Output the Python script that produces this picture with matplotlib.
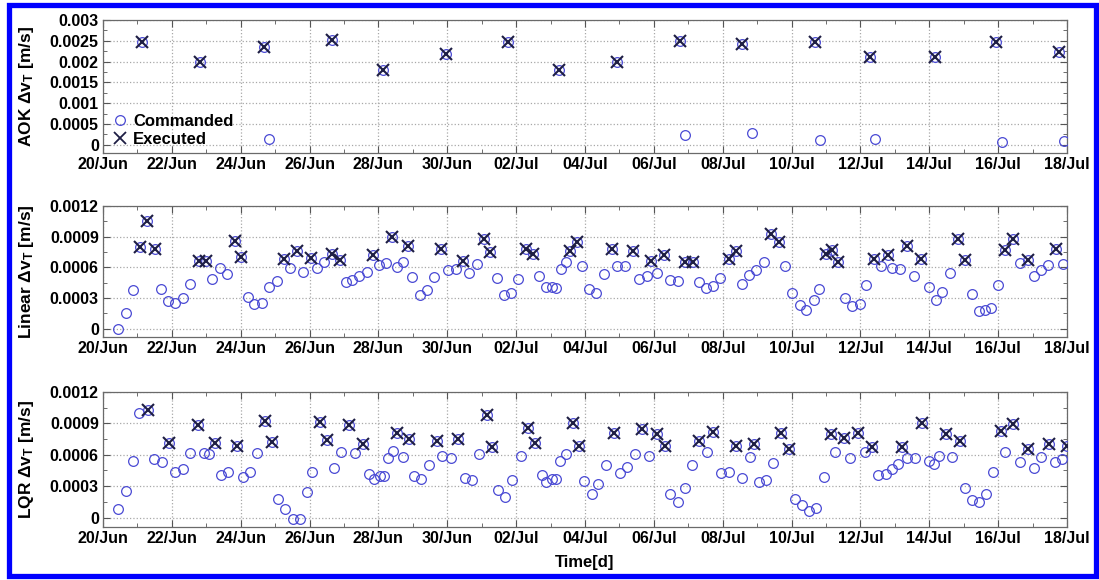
import matplotlib
matplotlib.use('Agg')
import matplotlib.pyplot as plt
from matplotlib.patches import Rectangle
from matplotlib.ticker import FixedLocator, MultipleLocator
from matplotlib.lines import Line2D

plt.rcParams['font.family'] = ['Liberation Sans', 'DejaVu Sans']
plt.rcParams['font.weight'] = 'bold'
plt.rcParams['mathtext.fontset'] = 'custom'
plt.rcParams['mathtext.rm'] = 'Liberation Sans'
plt.rcParams['mathtext.bf'] = 'Liberation Sans:bold'
plt.rcParams['mathtext.default'] = 'bf'

# ---------------- data (days since 20/Jun) ----------------
x_tick_days = list(range(0, 29, 2))
x_tick_labels = ['20/Jun', '22/Jun', '24/Jun', '26/Jun', '28/Jun', '30/Jun',
                 '02/Jul', '04/Jul', '06/Jul', '08/Jul', '10/Jul', '12/Jul',
                 '14/Jul', '16/Jul', '18/Jul']

aok_exe_day = [1.12, 2.81, 4.67, 6.64, 8.14, 9.95, 11.77, 13.25, 14.94, 16.77,
               18.56, 20.67, 22.28, 24.16, 25.93, 27.77]
aok_exe_val = [0.00246, 0.00198, 0.00234, 0.00252, 0.00180, 0.00218, 0.00248,
               0.00179, 0.00198, 0.00250, 0.00242, 0.00246, 0.00210, 0.00212,
               0.00248, 0.00224]
aok_cmd_day = [1.12, 2.81, 4.67, 4.81, 6.64, 8.14, 9.95, 11.77, 13.25, 14.94,
               16.77, 16.90, 18.56, 18.86, 20.67, 20.83, 22.28, 22.41, 24.16,
               25.93, 26.10, 27.77, 27.90]
aok_cmd_val = [0.00246, 0.00198, 0.00234, 0.00014, 0.00252, 0.00180, 0.00218,
               0.00248, 0.00179, 0.00198, 0.00250, 0.00024, 0.00242, 0.00027,
               0.00246, 0.00012, 0.00210, 0.00014, 0.00212, 0.00248, 0.00006,
               0.00224, 0.00008]

lin_cmd_day = [0.45, 0.66, 0.86, 1.08, 1.27, 1.51, 1.69, 1.90, 2.10, 2.32, 2.53,
               2.78, 3.00, 3.17, 3.39, 3.60, 3.82, 4.01, 4.20, 4.40, 4.62, 4.82,
               5.04, 5.25, 5.44, 5.64, 5.81, 6.05, 6.22, 6.43, 6.64, 6.88, 7.05,
               7.22, 7.43, 7.66, 7.84, 8.02, 8.21, 8.40, 8.55, 8.72, 8.86, 8.98,
               9.20, 9.42, 9.61, 9.83, 10.03, 10.25, 10.46, 10.64, 10.87, 11.06,
               11.24, 11.43, 11.64, 11.84, 12.04, 12.28, 12.48, 12.67, 12.88,
               13.03, 13.15, 13.29, 13.44, 13.56, 13.77, 13.90, 14.12, 14.33,
               14.55, 14.77, 14.93, 15.16, 15.40, 15.57, 15.79, 15.93, 16.08,
               16.30, 16.48, 16.70, 16.90, 17.14, 17.30, 17.51, 17.72, 17.93,
               18.18, 18.40, 18.55, 18.77, 18.98, 19.20, 19.41, 19.64, 19.82,
               20.01, 20.24, 20.43, 20.64, 20.79, 21.01, 21.18, 21.35, 21.55,
               21.76, 21.98, 22.17, 22.40, 22.59, 22.80, 22.93, 23.14, 23.36,
               23.56, 23.75, 23.98, 24.19, 24.38, 24.59, 24.82, 25.03, 25.24,
               25.44, 25.63, 25.78, 26.00, 26.21, 26.43, 26.63, 26.87, 27.03,
               27.24, 27.45, 27.69, 27.88]
lin_cmd_val = [0.0, 0.000155, 0.00038, 0.00080, 0.00105, 0.00078, 0.00039,
               0.00027, 0.00025, 0.00030, 0.00044, 0.00066, 0.00066, 0.00049,
               0.00059, 0.00054, 0.00086, 0.00070, 0.00031, 0.00024, 0.00025,
               0.00041, 0.00047, 0.00068, 0.00059, 0.00076, 0.00056, 0.00069,
               0.00059, 0.00065, 0.00073, 0.00067, 0.00046, 0.00048, 0.00052,
               0.00056, 0.00072, 0.00062, 0.00064, 0.00090, 0.00060, 0.00065,
               0.00081, 0.00051, 0.00033, 0.00038, 0.00051, 0.00078, 0.00057,
               0.00058, 0.00066, 0.00055, 0.00063, 0.00088, 0.00075, 0.00050,
               0.00033, 0.00035, 0.00049, 0.00078, 0.00073, 0.00052, 0.00041,
               0.00041, 0.00040, 0.00058, 0.00065, 0.00076, 0.00085, 0.00061,
               0.00039, 0.00035, 0.00054, 0.00078, 0.00061, 0.00061, 0.00076,
               0.00049, 0.00052, 0.00066, 0.00055, 0.00072, 0.00048, 0.00047,
               0.00065, 0.00065, 0.00046, 0.00040, 0.00042, 0.00050, 0.00068,
               0.00076, 0.00044, 0.00053, 0.00057, 0.00065, 0.00093, 0.00085,
               0.00061, 0.00035, 0.00023, 0.00018, 0.00028, 0.00039, 0.00073,
               0.00077, 0.00065, 0.00030, 0.00022, 0.00024, 0.00043, 0.00068,
               0.00061, 0.00072, 0.00059, 0.00058, 0.00081, 0.00052, 0.00068,
               0.00041, 0.00028, 0.00036, 0.00055, 0.00088, 0.00067, 0.00034,
               0.00017, 0.00018, 0.00020, 0.00043, 0.00077, 0.00088, 0.00064,
               0.00067, 0.00052, 0.00057, 0.00062, 0.00078, 0.00063]
lin_exe_day = [1.08, 1.27, 1.51, 2.78, 3.00, 3.82, 4.01, 5.25, 5.64, 6.05, 6.64,
               6.88, 7.84, 8.40, 8.86, 9.83, 10.46, 11.06, 11.24, 12.28, 12.48,
               13.56, 13.77, 14.77, 15.40, 15.93, 16.30, 16.90, 17.14, 18.18,
               18.40, 19.41, 19.64, 21.01, 21.18, 21.35, 22.40, 22.80, 23.36,
               23.75, 24.82, 25.03, 26.21, 26.43, 26.87, 27.69]
lin_exe_val = [0.00080, 0.00105, 0.00078, 0.00066, 0.00066, 0.00086, 0.00070,
               0.00068, 0.00076, 0.00069, 0.00073, 0.00067, 0.00072, 0.00090,
               0.00081, 0.00078, 0.00066, 0.00088, 0.00075, 0.00078, 0.00073,
               0.00076, 0.00085, 0.00078, 0.00076, 0.00066, 0.00072, 0.00065,
               0.00065, 0.00068, 0.00076, 0.00093, 0.00085, 0.00073, 0.00077,
               0.00065, 0.00068, 0.00072, 0.00081, 0.00068, 0.00088, 0.00067,
               0.00077, 0.00088, 0.00067, 0.00078]

lqr_cmd_day = [0.45, 0.66, 0.86, 1.05, 1.30, 1.48, 1.70, 1.93, 2.09, 2.31, 2.53,
               2.77, 2.93, 3.09, 3.25, 3.43, 3.64, 3.88, 4.06, 4.27, 4.48, 4.70,
               4.90, 5.09, 5.30, 5.51, 5.72, 5.93, 6.06, 6.30, 6.51, 6.71, 6.90,
               7.15, 7.31, 7.56, 7.73, 7.87, 8.04, 8.16, 8.28, 8.43, 8.55, 8.70,
               8.89, 9.04, 9.25, 9.47, 9.69, 9.86, 10.10, 10.32, 10.51, 10.73,
               10.93, 11.14, 11.31, 11.48, 11.68, 11.89, 12.13, 12.35, 12.54,
               12.74, 12.86, 13.05, 13.17, 13.27, 13.44, 13.64, 13.82, 13.98,
               14.19, 14.38, 14.60, 14.85, 15.03, 15.23, 15.45, 15.67, 15.86,
               16.08, 16.32, 16.48, 16.69, 16.90, 17.11, 17.31, 17.53, 17.72,
               17.94, 18.17, 18.38, 18.55, 18.79, 18.91, 19.06, 19.27, 19.46,
               19.69, 19.92, 20.09, 20.31, 20.50, 20.72, 20.93, 21.14, 21.27,
               21.51, 21.69, 21.93, 22.13, 22.35, 22.51, 22.73, 22.93, 23.09,
               23.22, 23.36, 23.58, 23.79, 23.99, 24.13, 24.27, 24.50, 24.67,
               24.88, 25.03, 25.24, 25.45, 25.64, 25.85, 26.09, 26.21, 26.43,
               26.63, 26.87, 27.03, 27.24, 27.48, 27.64, 27.86, 28.0]
lqr_cmd_val = [0.000086, 0.00025, 0.00054, 0.00100, 0.00103, 0.00056, 0.00053,
               0.00071, 0.00044, 0.00046, 0.00062, 0.00088, 0.00062, 0.00061,
               0.00071, 0.00041, 0.00044, 0.00068, 0.00039, 0.00044, 0.00062,
               0.00092, 0.00072, 0.00018, 0.000086, -0.00001, -0.00001, 0.00024,
               0.00044, 0.00091, 0.00074, 0.00047, 0.00063, 0.00088, 0.00062,
               0.00070, 0.00042, 0.00037, 0.00040, 0.00040, 0.00057, 0.00064,
               0.00081, 0.00058, 0.00075, 0.00040, 0.00037, 0.00050, 0.00073,
               0.00059, 0.00057, 0.00075, 0.00038, 0.00036, 0.00061, 0.00098,
               0.00067, 0.00026, 0.00020, 0.00036, 0.00059, 0.00086, 0.00071,
               0.00041, 0.00034, 0.00037, 0.00037, 0.00054, 0.00061, 0.00090,
               0.00068, 0.00035, 0.00023, 0.00032, 0.00050, 0.00081, 0.00043,
               0.00048, 0.00061, 0.00085, 0.00059, 0.00080, 0.00068, 0.00023,
               0.00015, 0.00028, 0.00050, 0.00073, 0.00063, 0.00082, 0.00043,
               0.00044, 0.00068, 0.00038, 0.00058, 0.00070, 0.00034, 0.00036,
               0.00052, 0.00081, 0.00066, 0.00018, 0.00012, 0.00006, 0.00009,
               0.00039, 0.00080, 0.00063, 0.00076, 0.00057, 0.00081, 0.00063,
               0.00067, 0.00041, 0.00042, 0.00046, 0.00051, 0.00067, 0.00057,
               0.00057, 0.00090, 0.00054, 0.00051, 0.00059, 0.00080, 0.00058,
               0.00073, 0.00028, 0.00017, 0.00015, 0.00023, 0.00044, 0.00083,
               0.00063, 0.00089, 0.00053, 0.00066, 0.00047, 0.00058, 0.00070,
               0.00053, 0.00056, 0.00068]
lqr_exe_day = [1.30, 1.93, 2.77, 3.25, 3.88, 4.70, 4.90, 6.30, 6.51, 7.15, 7.56,
               8.55, 8.89, 9.69, 10.32, 11.14, 11.31, 12.35, 12.54, 13.64, 13.82,
               14.85, 15.67, 16.08, 16.32, 17.31, 17.72, 18.38, 18.91, 19.69,
               19.92, 21.14, 21.51, 21.93, 22.35, 23.22, 23.79, 24.50, 24.88,
               26.09, 26.43, 26.87, 27.48, 28.0]
lqr_exe_val = [0.00103, 0.00071, 0.00088, 0.00071, 0.00068, 0.00092, 0.00072,
               0.00091, 0.00074, 0.00088, 0.00070, 0.00081, 0.00075, 0.00073,
               0.00075, 0.00098, 0.00067, 0.00086, 0.00071, 0.00090, 0.00068,
               0.00081, 0.00085, 0.00080, 0.00068, 0.00073, 0.00082, 0.00068,
               0.00070, 0.00081, 0.00066, 0.00080, 0.00076, 0.00081, 0.00067,
               0.00067, 0.00090, 0.00080, 0.00073, 0.00083, 0.00089, 0.00066,
               0.00070, 0.00068]

aok_yticks = [0, 0.0005, 0.001, 0.0015, 0.002, 0.0025, 0.003]
aok_ylabels = ['0', '0.0005', '0.001', '0.0015', '0.002', '0.0025', '0.003']
small_yticks = [0, 0.0003, 0.0006, 0.0009, 0.0012]
small_ylabels = ['0', '0.0003', '0.0006', '0.0009', '0.0012']

panel_names = ['AOK', 'Linear', 'LQR']

# ---------------- figure ----------------
W, H = 1099, 580
fig = plt.figure(figsize=(W / 100, H / 100), dpi=100)

left = 103 / W
width = (1067 - 103) / W
boxes = [(20, 153), (206, 337), (392, 527)]

cmd_color = '#4a4ad4'
exe_color = '#1e1e44'

panels = [
    (aok_cmd_day, aok_cmd_val, aok_exe_day, aok_exe_val, aok_yticks, aok_ylabels,
     (-0.0002, 0.003), 0.00025),
    (lin_cmd_day, lin_cmd_val, lin_exe_day, lin_exe_val, small_yticks, small_ylabels,
     (-0.00008, 0.0012), 0.00015),
    (lqr_cmd_day, lqr_cmd_val, lqr_exe_day, lqr_exe_val, small_yticks, small_ylabels,
     (-0.00009, 0.0012), 0.00015),
]

axes = []
for (top_px, bot_px), name, (cd, cv, ed, ev, yt, yl, ylim, yminor) in zip(boxes, panel_names, panels):
    ax = fig.add_axes([left, 1 - bot_px / H, width, (bot_px - top_px) / H])
    axes.append(ax)
    ax.plot(cd, cv, linestyle='none', marker='o', ms=7, mfc='none',
            mec=cmd_color, mew=0.9, label='Commanded', zorder=3)
    ax.plot(ed, ev, linestyle='none', marker='x', ms=8, color=exe_color,
            mew=1.5, label='Executed', zorder=4)
    ax.set_xlim(0, 28)
    ax.set_ylim(*ylim)
    ax.xaxis.set_major_locator(FixedLocator(x_tick_days))
    ax.set_xticklabels(x_tick_labels)
    ax.xaxis.set_minor_locator(MultipleLocator(1))
    ax.yaxis.set_major_locator(FixedLocator(yt))
    ax.set_yticklabels(yl)
    ax.yaxis.set_minor_locator(MultipleLocator(yminor))
    ax.tick_params(which='both', direction='in', top=True, right=True,
                   color='#555555', labelsize=11.5, pad=3)
    ax.tick_params(which='major', length=5)
    ax.tick_params(which='minor', length=3)
    for lab in ax.get_xticklabels() + ax.get_yticklabels():
        lab.set_fontweight('bold')
    ax.grid(True, which='major', linestyle=':', color='#a8a8a8', linewidth=0.9)
    for sp in ax.spines.values():
        sp.set_color('#6a6a6a')
        sp.set_linewidth(0.9)
    ax.set_ylabel(name + r' Δv$_{\mathbf{T}}$ [m/s]', fontsize=12.5, fontweight='bold')
    ax.yaxis.set_label_coords(-0.0695, 0.5)

handles = [Line2D([], [], linestyle='none', marker='o', ms=7, mfc='none',
                  mec=cmd_color, mew=0.9),
           Line2D([], [], linestyle='none', marker='x', ms=8, color=exe_color,
                  mew=1.3)]
axes[0].legend(handles, ['Commanded', 'Executed'], loc='lower left',
               bbox_to_anchor=(-0.005, -0.04), frameon=False,
               prop={'size': 12, 'weight': 'bold'}, handletextpad=0.2,
               handlelength=1.2, labelspacing=0.15, borderaxespad=0.3)

fig.text(585 / W, 1 - 563 / H, 'Time[d]', ha='center', va='center',
         fontsize=12, fontweight='bold')

fig.patches.append(Rectangle((8.5 / W, 4.5 / H), (1095.5 - 8.5) / W, (575.5 - 4.5) / H,
                             transform=fig.transFigure, fill=False,
                             edgecolor='#0000ff', linewidth=3.8, zorder=10))

fig.savefig('out.png', dpi=100)
